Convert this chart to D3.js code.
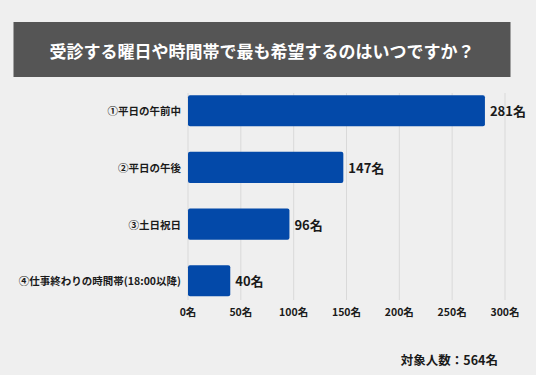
<!DOCTYPE html>
<html>
<head>
<meta charset="utf-8">
<script src="https://cdn.jsdelivr.net/npm/d3@7"></script>
<style>
    html, body { margin: 0; padding: 0; background: #efefef; }
    svg text { font-family: "Noto Sans CJK JP", "Noto Sans", sans-serif; font-weight: bold; }
</style>
</head>
<body>
<svg id="chart"></svg>
<script>
(function () {
    const title = '受診する曜日や時間帯で最も希望するのはいつですか？';
    const categories = ['①平日の午前中', '②平日の午後', '③土日祝日', '④仕事終わりの時間帯(18:00以降)'];
    const values = [281, 147, 96, 40];
    const tickValues = [0, 50, 100, 150, 200, 250, 300];
    const unit = '名';
    const footnote = '対象人数：564名';

    const width = 536;
    const height = 375;

    const svg = d3.select('#chart')
        .attr('width', width)
        .attr('height', height);

    svg.append('rect')
        .attr('width', width)
        .attr('height', height)
        .attr('fill', '#efefef');

    // title banner
    svg.append('rect')
        .attr('x', 13.5)
        .attr('y', 22)
        .attr('width', 497)
        .attr('height', 55)
        .attr('fill', '#555555');

    svg.append('text')
        .attr('x', 262)
        .attr('y', 50)
        .attr('text-anchor', 'middle')
        .attr('dominant-baseline', 'central')
        .attr('fill', '#ffffff')
        .attr('font-size', 17)
        .text(title);

    const x = d3.scaleLinear()
        .domain([0, 300])
        .range([188, 505]);

    const y = d3.scaleBand()
        .domain(categories)
        .range([81, 310.5])
        .paddingInner(0.45)
        .paddingOuter(0.25);

    // grid
    svg.append('g')
        .selectAll('line')
        .data(tickValues)
        .join('line')
        .attr('x1', d => x(d))
        .attr('x2', d => x(d))
        .attr('y1', 93)
        .attr('y2', 300)
        .attr('stroke', '#d9d9d9')
        .attr('stroke-width', 1);

    // bars
    svg.append('g')
        .selectAll('rect')
        .data(values)
        .join('rect')
        .attr('x', x(0))
        .attr('y', (d, i) => y(categories[i]))
        .attr('width', d => x(d) - x(0))
        .attr('height', y.bandwidth())
        .attr('rx', 2)
        .attr('fill', '#0349a9');

    // value labels
    svg.append('g')
        .selectAll('text')
        .data(values)
        .join('text')
        .attr('x', d => x(d) + 5)
        .attr('y', (d, i) => y(categories[i]) + y.bandwidth() / 2)
        .attr('dominant-baseline', 'central')
        .attr('font-size', 13)
        .attr('fill', '#1a1a1a')
        .text(d => d + unit);

    // category labels
    svg.append('g')
        .selectAll('text')
        .data(categories)
        .join('text')
        .attr('x', 181)
        .attr('y', d => y(d) + y.bandwidth() / 2)
        .attr('text-anchor', 'end')
        .attr('dominant-baseline', 'central')
        .attr('font-size', 10.5)
        .attr('fill', '#1a1a1a')
        .text(d => d);

    // x tick labels
    svg.append('g')
        .selectAll('text')
        .data(tickValues)
        .join('text')
        .attr('x', d => x(d))
        .attr('y', 311)
        .attr('text-anchor', 'middle')
        .attr('dominant-baseline', 'central')
        .attr('font-size', 10.5)
        .attr('fill', '#1a1a1a')
        .text(d => d + unit);

    svg.append('text')
        .attr('x', 498)
        .attr('y', 359)
        .attr('text-anchor', 'end')
        .attr('dominant-baseline', 'central')
        .attr('font-size', 12.5)
        .attr('fill', '#1a1a1a')
        .text(footnote);
})();
</script>
</body>
</html>
